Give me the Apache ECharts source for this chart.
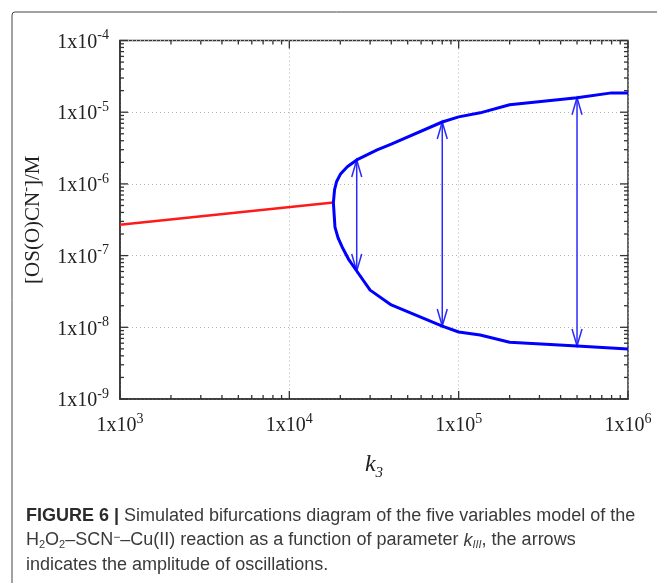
<!DOCTYPE html>
<html>
<head>
<meta charset="utf-8">
<script src="https://cdn.jsdelivr.net/npm/echarts@6/dist/echarts.min.js"></script>
<style>
html,body{margin:0;padding:0;background:#fff;}
#chart{width:657px;height:583px;}
</style>
</head>
<body>
<div id="chart"></div>
<script>
// ---- data ----
const xMin = 1e3, xMax = 1e6;
const yMin = 1e-9, yMax = 1e-4;

// stable steady state (red)
const redK3   = [1e3, 1.82e4];
const redConc = [2.7e-7, 5.5e-7];

// oscillation envelope (blue): upper branch right->left, then lower branch left->right
const blueK3   = [1e6, 8e5, 5e5, 2e5, 1.34e5, 1e5, 8e4, 4e4, 3.3e4, 2.5e4, 2.2e4, 2e4, 1.9e4, 1.85e4, 1.82e4,
                  1.84e4, 1.86e4, 1.94e4, 2.05e4, 2.25e4, 2.5e4, 3e4, 4e4, 8e4, 1e5, 1.34e5, 2e5, 5e5, 1e6];
const blueConc = [1.86e-5, 1.86e-5, 1.59e-5, 1.27e-5, 9.8e-6, 8.6e-6, 7.3e-6, 3.6e-6, 2.98e-6, 2.16e-6, 1.73e-6, 1.36e-6, 1.07e-6, 8.3e-7, 5.5e-7,
                  3.7e-7, 2.5e-7, 1.77e-7, 1.32e-7, 8.7e-8, 6.1e-8, 3.3e-8, 2.05e-8, 1.04e-8, 8.6e-9, 7.8e-9, 6.2e-9, 5.5e-9, 5.0e-9];

// amplitude arrows
const arrowK3     = [2.5e4, 8e4, 5e5];
const arrowTop    = [2.16e-6, 7.3e-6, 1.59e-5];
const arrowBottom = [6.1e-8, 1.04e-8, 5.5e-9];

const xDecades = [3, 4, 5];        // minor ticks 2..9 x 10^k
const yDecades = [-9, -8, -7, -6, -5];
const majorX = [1e3, 1e4, 1e5, 1e6];
const majorY = [1e-9, 1e-8, 1e-7, 1e-6, 1e-5, 1e-4];

// ---- chart ----
const chart = echarts.init(document.getElementById('chart'), null, {renderer: 'canvas'});
const serif = '"Liberation Serif", "DejaVu Serif", serif';
const sans = '"Liberation Sans", Arial, sans-serif';

function expLabel(v) {
  const e = Math.round(Math.log10(v));
  return '{a|1x10}{s|' + e + '}';
}
const labelRich = {
  a: {fontFamily: serif, fontSize: 20, color: '#222', lineHeight: 24, verticalAlign: 'bottom'},
  s: {fontFamily: serif, fontSize: 14, color: '#222', lineHeight: 14, verticalAlign: 'top'}
};

const minorX = [], minorY = [];
xDecades.forEach(k => { for (let m = 2; m <= 9; m++) minorX.push(m * Math.pow(10, k)); });
yDecades.forEach(k => { for (let m = 2; m <= 9; m++) minorY.push(m * Math.pow(10, k)); });

const tickColor = '#333';
function tickRender(params, api) {
  const children = [];
  const c0 = api.coord([xMin, yMin]);
  const c1 = api.coord([xMax, yMax]);
  const left = c0[0], right = c1[0], bottom = c0[1], top = c1[1];
  function addX(v, len) {
    const x = api.coord([v, yMin])[0];
    children.push({type: 'line', shape: {x1: x, y1: bottom, x2: x, y2: bottom - len}, style: {stroke: tickColor, lineWidth: 1.3}});
    children.push({type: 'line', shape: {x1: x, y1: top, x2: x, y2: top + len}, style: {stroke: tickColor, lineWidth: 1.3}});
  }
  function addY(v, len) {
    const y = api.coord([xMin, v])[1];
    children.push({type: 'line', shape: {x1: left, y1: y, x2: left + len, y2: y}, style: {stroke: tickColor, lineWidth: 1.3}});
    children.push({type: 'line', shape: {x1: right, y1: y, x2: right - len, y2: y}, style: {stroke: tickColor, lineWidth: 1.3}});
  }
  minorX.forEach(v => addX(v, 4));
  majorX.forEach(v => addX(v, 8));
  minorY.forEach(v => addY(v, 4));
  majorY.forEach(v => addY(v, 8));
  return {type: 'group', children: children};
}

function arrowRender(params, api) {
  const x = api.value(0);
  const p1 = api.coord([x, api.value(1)]);
  const p2 = api.coord([x, api.value(2)]);
  const hl = 17, hw = 5;
  const st = {stroke: '#2a2aff', lineWidth: 1.5, fill: null};
  return {
    type: 'group',
    children: [
      {type: 'line', shape: {x1: p1[0], y1: p1[1], x2: p2[0], y2: p2[1]}, style: st},
      {type: 'polyline', shape: {points: [[p1[0] - hw, p1[1] + hl], [p1[0], p1[1]], [p1[0] + hw, p1[1] + hl]]}, style: st},
      {type: 'polyline', shape: {points: [[p2[0] - hw, p2[1] - hl], [p2[0], p2[1]], [p2[0] + hw, p2[1] - hl]]}, style: st}
    ]
  };
}

const option = {
  backgroundColor: '#fff',
  animation: false,
  grid: {left: 120, right: 29, top: 40.5, bottom: 184, show: true, borderColor: '#333', borderWidth: 1.5, backgroundColor: 'transparent'},
  xAxis: {
    type: 'log', logBase: 10, min: xMin, max: xMax,
    splitNumber: 3,
    axisLine: {show: true, lineStyle: {color: '#333', width: 1.5}},
    axisTick: {show: false},
    splitLine: {show: true, lineStyle: {color: '#b5b5b5', type: [1, 3], width: 1}},
    axisLabel: {margin: 13, formatter: expLabel, rich: labelRich, showMinLabel: true, showMaxLabel: true},
    name: '{i|k}{sub|3}',
    nameLocation: 'middle', nameGap: 54,
    nameTextStyle: {rich: {
      i: {fontFamily: serif, fontStyle: 'italic', fontSize: 24, color: '#222', lineHeight: 28, verticalAlign: 'top'},
      sub: {fontFamily: serif, fontStyle: 'italic', fontSize: 15, color: '#222', lineHeight: 15, verticalAlign: 'bottom'}
    }}
  },
  yAxis: {
    type: 'log', logBase: 10, min: yMin, max: yMax,
    splitNumber: 5,
    axisLine: {show: true, lineStyle: {color: '#333', width: 1.5}},
    axisTick: {show: false},
    splitLine: {show: true, lineStyle: {color: '#b5b5b5', type: [1, 3], width: 1}},
    axisLabel: {margin: 11, formatter: expLabel, rich: labelRich, showMinLabel: true, showMaxLabel: true},
    name: '{a|[OS(O)CN}{s|-}{a|]/M}',
    nameLocation: 'middle', nameGap: 76, nameRotate: 90,
    nameTextStyle: {rich: {
      a: {fontFamily: serif, fontSize: 21, color: '#222', lineHeight: 25, verticalAlign: 'bottom'},
      s: {fontFamily: serif, fontSize: 14, color: '#222', lineHeight: 14, verticalAlign: 'top'}
    }}
  },
  graphic: [
    {type: 'rect', shape: {x: 12, y: 12, width: 700, height: 650, r: 3}, style: {fill: null, stroke: '#444', lineWidth: 1}, silent: true, z: -10},
    {
      type: 'text', left: 26, top: 507,
      style: {
        text: '{b|FIGURE 6 |}{n| Simulated bifurcations diagram of the five variables model of the}\n' +
              '{n|H}{sub|2}{n|O}{sub|2}{n|–SCN}{sup|−}{n|–Cu(II) reaction as a function of parameter }{i|k}{isub|III}{n|, the arrows}\n' +
              '{n|indicates the amplitude of oscillations.}',
        rich: {
          b: {fontFamily: sans, fontWeight: 'bold', fontSize: 18, fill: '#2b2b2b', lineHeight: 24.5, verticalAlign: 'middle'},
          n: {fontFamily: sans, fontSize: 18, fill: '#3a3a3a', lineHeight: 24.5, verticalAlign: 'middle'},
          i: {fontFamily: sans, fontStyle: 'italic', fontSize: 18, fill: '#3a3a3a', lineHeight: 24.5, verticalAlign: 'middle'},
          sub: {fontFamily: sans, fontSize: 11, fill: '#3a3a3a', lineHeight: 11, verticalAlign: 'bottom', padding: [0, 0, 2, 0]},
          isub: {fontFamily: sans, fontStyle: 'italic', fontSize: 11, fill: '#3a3a3a', lineHeight: 11, verticalAlign: 'bottom', padding: [0, 0, 2, 0]},
          sup: {fontFamily: sans, fontSize: 12, fill: '#3a3a3a', lineHeight: 12, verticalAlign: 'top', padding: [3, 0, 0, 0]}
        }
      }
    }
  ],
  series: [
    {
      type: 'custom', name: 'ticks', renderItem: tickRender, data: [[xMin, yMin]], silent: true, z: 1, clip: false
    },
    {
      type: 'line', name: 'stable', data: redK3.map((v, i) => [v, redConc[i]]),
      showSymbol: false, symbol: 'none', lineStyle: {color: '#ff1a1a', width: 2.5}, z: 3
    },
    {
      type: 'line', name: 'oscillation', data: blueK3.map((v, i) => [v, blueConc[i]]),
      showSymbol: false, symbol: 'none', lineStyle: {color: '#0000ff', width: 3}, z: 4
    },
    {
      type: 'custom', name: 'arrows', renderItem: arrowRender,
      data: arrowK3.map((v, i) => [v, arrowTop[i], arrowBottom[i]]),
      encode: {x: 0, y: [1, 2]}, z: 3
    }
  ]
};
chart.setOption(option);
</script>
</body>
</html>
